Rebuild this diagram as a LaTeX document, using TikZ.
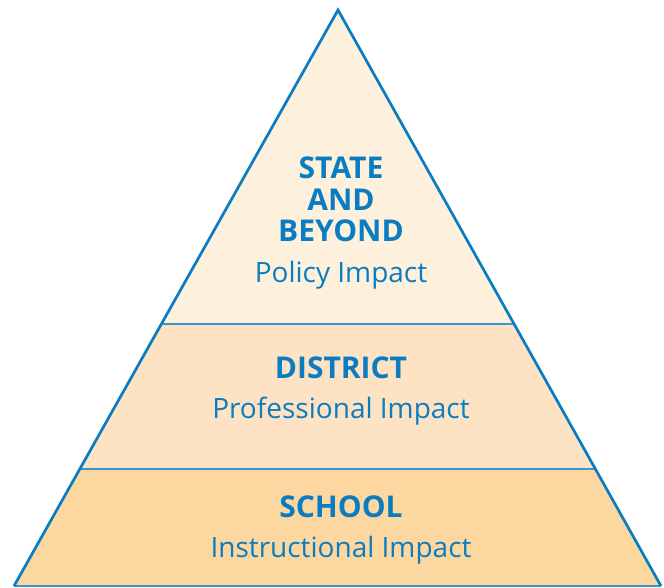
\documentclass[tikz,border=0pt]{standalone}
\usepackage{fontspec}
\setmainfont{Open Sans}
\usetikzlibrary{calc}
\definecolor{edgeblue}{HTML}{0A7CC1}
\definecolor{lineblue}{HTML}{3A95C9}
\definecolor{txtblue}{HTML}{0A7CC1}
\definecolor{fillA}{HTML}{FDF0DC}
\definecolor{fillB}{HTML}{FDE3C3}
\definecolor{fillC}{HTML}{FDD7A0}
\begin{document}
\begin{tikzpicture}[x=1pt,y=-1pt,
  title/.style={anchor=base,text=txtblue,font=\fontsize{30}{30}\selectfont\bfseries,inner sep=0pt},
  sub/.style={anchor=base,text=txtblue,font=\fontsize{28}{28}\selectfont,inner sep=0pt},
  divider/.style={draw=lineblue,line width=1.4pt},
  outline/.style={draw=edgeblue,line width=2.7pt,line join=miter}]
\useasboundingbox (0,0) rectangle (664,587);
\coordinate (apex) at (338,10);
\coordinate (bl) at (14,586);
\coordinate (br) at (661,586);
\coordinate (l1) at ($(bl)!0.4549!(apex)$);
\coordinate (r1) at ($(br)!0.4549!(apex)$);
\coordinate (l2) at ($(bl)!0.2031!(apex)$);
\coordinate (r2) at ($(br)!0.2031!(apex)$);
% fills
\fill[fillC] (bl) -- (br) -- (r2) -- (l2) -- cycle;
\fill[fillB] (l2) -- (r2) -- (r1) -- (l1) -- cycle;
\fill[fillA] (l1) -- (r1) -- (apex) -- cycle;
% dividers and base
\draw[divider] (l1) -- (r1);
\draw[divider] (l2) -- (r2);
\draw[divider] (bl) -- (br);
% outline
\draw[outline] (bl) -- (apex) -- (br);
% texts
\node[title] (t1) at (341,178) {STATE};
\node[title] (t2) at (341,210) {AND};
\node[title] (t3) at (341,241) {BEYOND};
\node[sub] (s1) at (341,282) {Policy Impact};
\node[title] (t4) at (341,378) {DISTRICT};
\node[sub] (s2) at (341,418) {Professional Impact};
\node[title] (t5) at (341,517) {SCHOOL};
\node[sub] (s3) at (341,557) {Instructional Impact};
\end{tikzpicture}
\end{document}
